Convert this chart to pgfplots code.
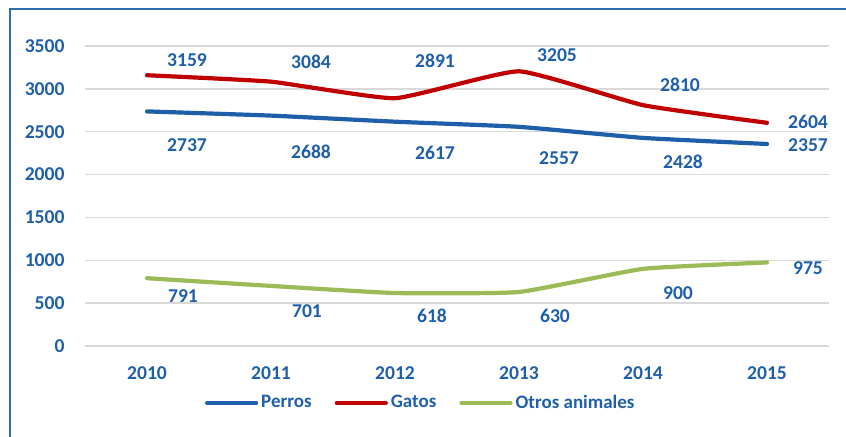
\documentclass[border=0pt]{standalone}
\usepackage{pgfplots}
\pgfplotsset{compat=1.18}
\usepackage{pgfplotstable}
\usepackage{fontspec}
\setmainfont{Carlito}
\definecolor{lblue}{HTML}{1F5FAA}
\definecolor{pblue}{HTML}{1F5FAA}
\definecolor{gred}{HTML}{C00000}
\definecolor{ogreen}{HTML}{9BBB59}
\definecolor{gridgray}{HTML}{D9D9D9}
\definecolor{frameblue}{HTML}{2E6DB4}

\pgfplotstableread{
x y dx dy
0 2737 20 -16.8
1 2688 20 -18.2
2 2617 20 -15.7
3 2557 20 -15.6
4 2428 20 -12.0
5 2357 20.5 -0.5
}\perros
\pgfplotstableread{
x y dx dy
0 3159 20 7.6
1 3084 20 9.8
2 2891 20 18.6
3 3205 19 8.2
4 2810 18.5 10.0
5 2604 20.5 0.3
}\gatos
\pgfplotstableread{
x y dx dy
0 791 18 -8.9
1 701 18 -12.5
2 618 18.5 -11.5
3 630 18 -12.0
4 900 17.5 -12.0
5 975 20.5 -2.8
}\otros

\pgfplotsset{
  mylabels/.style={
    visualization depends on={\thisrow{dx} \as \dx},
    visualization depends on={\thisrow{dy} \as \dy},
    nodes near coords,
    point meta=\thisrow{y},
    every node near coord/.append style={anchor=center, xshift=\dx pt, yshift=\dy pt,
      font=\bfseries\fontsize{9.8}{11}\selectfont, text=lblue, inner sep=0pt},
  }
}

\begin{document}
\begin{tikzpicture}
\useasboundingbox (-42.5pt,-45pt) rectangle (380.5pt,173pt);
\draw[frameblue, line width=1pt] (-37.5pt,-60pt) -- (-37.5pt,168.5pt) -- (400pt,168.5pt);
\begin{axis}[
  at={(0pt,0pt)}, anchor=south west,
  scale only axis, width=372pt, height=150pt,
  xmin=-0.5, xmax=5.5, ymin=0, ymax=3500,
  ytick={0,500,...,3500},
  xtick={0,1,2,3,4,5},
  xticklabels={2010,2011,2012,2013,2014,2015},
  axis line style={draw=none},
  major tick length=0pt,
  ymajorgrids,
  grid style={gridgray, line width=0.75pt},
  clip=false,
  /pgf/number format/1000 sep={},
  /pgf/number format/assume math mode=true,
  ticklabel style={font=\bfseries\fontsize{9.8}{11}\selectfont, text=lblue},
  xticklabel style={yshift=-7pt},
  yticklabel style={xshift=-6.7pt},
  legend columns=3,
  legend style={draw=none, fill=none, at={(0.452,-0.19)}, anchor=center,
    font=\bfseries\fontsize{9.5}{11}\selectfont, text=lblue,
    /tikz/every even column/.append style={column sep=10pt},
    nodes={inner sep=1.5pt}},
  legend image code/.code={\draw[#1, line cap=round] (0pt,0pt) -- (24.5pt,0pt);},
]
\addplot[pblue, line width=2.1pt, line cap=round, smooth, tension=0.25, mylabels] table[x=x,y=y] {\perros};
\addlegendentry{Perros}
\addplot[gred, line width=2.1pt, line cap=round, smooth, tension=0.25, mylabels] table[x=x,y=y] {\gatos};
\addlegendentry{Gatos}
\addplot[ogreen, line width=2.1pt, line cap=round, smooth, tension=0.25, mylabels] table[x=x,y=y] {\otros};
\addlegendentry{Otros animales}
\end{axis}
\end{tikzpicture}
\end{document}
